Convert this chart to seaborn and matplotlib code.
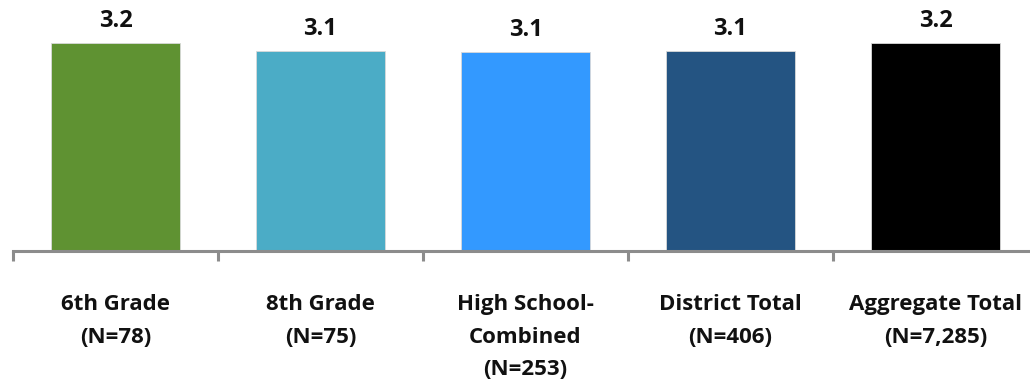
import matplotlib
matplotlib.use("Agg")
import matplotlib.pyplot as plt
import seaborn as sns
import numpy as np
import pandas as pd

# Survey group means (labels show one decimal)
groups = ["6th Grade\n(N=78)", "8th Grade\n(N=75)", "High School-\nCombined\n(N=253)",
          "District Total\n(N=406)", "Aggregate Total\n(N=7,285)"]
means = [3.21, 3.09, 3.07, 3.09, 3.21]
bar_colors = ["#5F9232", "#4BACC6", "#3399FF", "#245482", "#000000"]

sns.set_theme(style="white")
plt.rcParams["font.family"] = ["Open Sans", "DejaVu Sans"]

df = pd.DataFrame({"group": groups, "mean": means})

fig = plt.figure(figsize=(10.30, 3.81), dpi=100)
ax = fig.add_axes([13 / 1030, (381 - 251) / 381, 1025 / 1030, 251 / 381])

sns.barplot(data=df, x="group", y="mean", hue="group", palette=bar_colors,
            width=0.63, saturation=1, legend=False, ax=ax,
            edgecolor="#d9d9d9", linewidth=0.6)

ax.set_xlim(-0.5, 4.5)
ax.set_ylim(0, 3.87)
ax.set_xlabel("")
ax.set_ylabel("")
ax.set_yticks([])

for s in ["left", "top", "right"]:
    ax.spines[s].set_visible(False)
ax.spines["bottom"].set_color("#8c8c8c")
ax.spines["bottom"].set_linewidth(2.2)

# Category separators as minor ticks
ax.set_xticks(np.arange(-0.5, 5.0, 1.0), minor=True)
ax.tick_params(axis="x", which="minor", length=7, width=2.2, color="#8c8c8c",
               direction="out", bottom=True)
ax.tick_params(axis="x", which="major", length=0, pad=31)
for lbl in ax.get_xticklabels():
    lbl.set_fontsize(16)
    lbl.set_fontweight("bold")
    lbl.set_linespacing(1.72)
    lbl.set_color("#111111")
    lbl.set_verticalalignment("top")

for i, v in enumerate(means):
    ax.annotate(f"{v:.1f}", xy=(i, v), xytext=(0, 11.5), textcoords="offset points",
                ha="center", va="baseline", fontsize=17, fontweight="bold",
                color="#111111")

fig.savefig("out.png", dpi=100)
